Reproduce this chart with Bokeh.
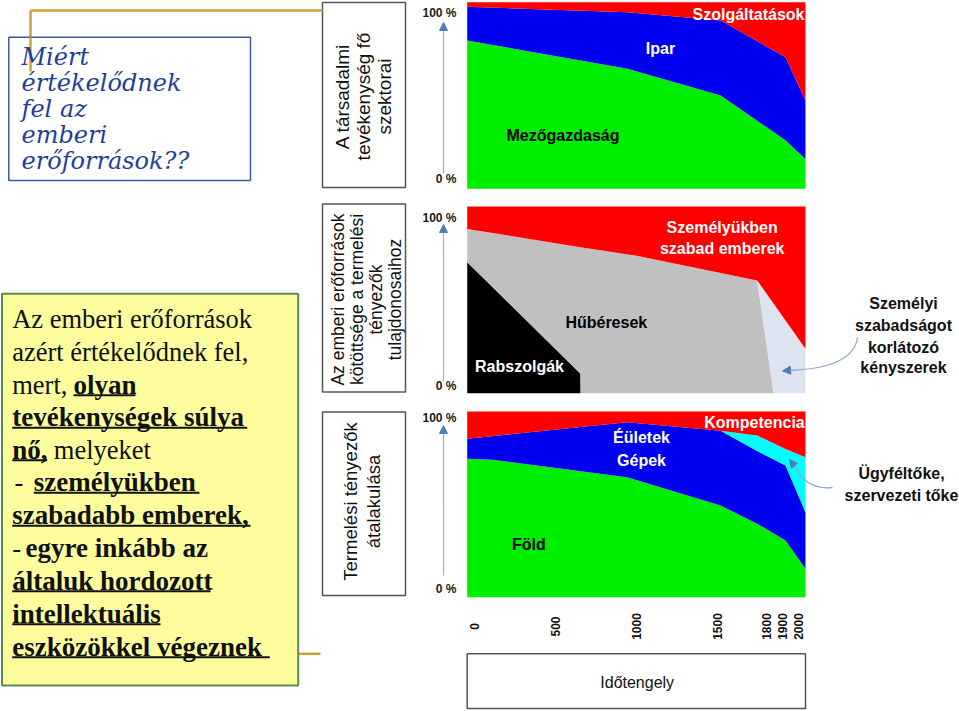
from math import pi
from bokeh.plotting import figure
from bokeh.models import Range1d, ColumnDataSource, Arrow, NormalHead
from bokeh.embed import file_html
from bokeh.resources import INLINE
from bokeh.core.properties import value

# ---------------- data ----------------
# Chart 1: main sectors of social activity (share, %)
sector_years = [-45, 945, 1520, 1920, 2043]
agriculture = [79.5, 64.3, 50.0, 26.0, 16.0]
industry = [18.0, 30.3, 40.2, 44.5, 31.3]
services = [2.5, 5.4, 9.8, 29.5, 52.7]

# Chart 2: bondage of human resources to owners of production factors (%)
bond_years = [-45, 654, 655, 1000, 1745, 1846, 2043]
slaves = [70.2, 10.4, 0, 0, 0, 0, 0]
serfs = [17.8, 67.8, 78.2, 73.6, 60.4, 0, 0]
constraints = [0, 0, 0, 0, 0, 48.0, 23.8]
free_people = [12.0, 21.8, 21.8, 26.4, 39.6, 52.0, 76.2]

# Chart 3: transformation of production factors (%)
factor_years = [-45, 109, 942, 1519, 1745, 1920, 2043]
land = [74.5, 74.0, 64.6, 49.4, 39.6, 30.5, 15.3]
buildings_machines = [10.8, 12.7, 29.6, 40.3, 39.1, 40.4, 30.5]
customer_capital = [0, 0, 0, 0, 8.4, 8.9, 29.5]
competence = [14.7, 13.3, 5.8, 10.3, 12.9, 20.2, 24.7]

tick_years = [0, 500, 1000, 1500, 1800, 1900, 2000]
tick_labels = ["0", "500", "1000", "1500", "1800", "1900", "2000"]

# ---------------- layout helpers ----------------
W, H = 959, 711


def Y(v):
    return H - v


p = figure(width=W, height=H, x_range=Range1d(0, W), y_range=Range1d(0, H),
           output_backend="svg", toolbar_location=None, min_border=0,
           x_axis_location=None, y_axis_location=None, outline_line_color=None,
           background_fill_color="white", border_fill_color="white")
p.grid.visible = False

X0, KX = 474.0, 0.162          # page x of year 0, px per year
p.extra_x_ranges = {"yr": Range1d((0 - X0) / KX, (W - X0) / KX)}


def pct_range(ybot, ytop):
    s = (ybot - ytop) / 100.0
    return Range1d((ybot - H) / s, ybot / s)


p.extra_y_ranges = {"top": pct_range(188.3, 1.7),
                    "mid": pct_range(392.7, 206.0),
                    "bot": pct_range(596.7, 411.0)}

# ---------------- charts ----------------
s1 = ColumnDataSource(dict(x=sector_years, a=agriculture, b=industry, c=services))
p.varea_stack(["a", "b", "c"], x="x", source=s1, color=["#00ee00", "#0000f0", "#ff0000"],
              x_range_name="yr", y_range_name="top")

s2 = ColumnDataSource(dict(x=bond_years, a=slaves, b=serfs, c=constraints, d=free_people))
p.varea_stack(["a", "b", "c", "d"], x="x", source=s2,
              color=["#000000", "#c0c0c0", "#dde3ef", "#ff0000"],
              x_range_name="yr", y_range_name="mid")

s3 = ColumnDataSource(dict(x=factor_years, a=land, b=buildings_machines, c=customer_capital, d=competence))
p.varea_stack(["a", "b", "c", "d"], x="x", source=s3,
              color=["#00ee00", "#0000f0", "#00ffff", "#ff0000"],
              x_range_name="yr", y_range_name="bot")

# time axis tick labels
p.text(x=tick_years, y=[Y(626)] * len(tick_years), text=tick_labels, x_range_name="yr",
       angle=pi / 2, text_align="center", text_baseline="middle",
       text_font=value("Liberation Sans"), text_font_style="bold",
       text_font_size="12px", text_color="#111111")


def txt(x, y, s, size, color="#111111", style="normal", font="Liberation Sans",
        align="center", angle=0.0):
    p.text(x=[x], y=[Y(y)], text=[s], text_font=value(font), text_font_size=f"{size}px",
           text_color=color, text_font_style=style, text_align=align,
           text_baseline="middle", angle=angle)


def box(l, r, t, b, fill="white", line="#555555", lw=1.5):
    p.quad(left=[l], right=[r], top=[Y(t)], bottom=[Y(b)], fill_color=fill,
           line_color=line, line_width=lw)


def seg(x0, y0, x1, y1, color, lw):
    p.segment(x0=[x0], y0=[Y(y0)], x1=[x1], y1=[Y(y1)], line_color=color, line_width=lw)


# chart labels
txt(748, 13.5, "Szolgáltatások", 16, "white", "bold")
txt(660, 48.3, "Ipar", 16, "white", "bold")
txt(562.5, 135, "Mezőgazdaság", 16, "#000000", "bold")
txt(721.7, 226.7, "Személyükben", 16, "white", "bold")
txt(721.7, 248.3, "szabad emberek", 16, "white", "bold")
txt(605.8, 321.7, "Hűbéresek", 16, "#000000", "bold")
txt(519, 365.7, "Rabszolgák", 16, "white", "bold")
txt(754, 421.7, "Kompetencia", 16, "white", "bold")
txt(641, 437.3, "Éületek", 16, "white", "bold")
txt(641, 460, "Gépek", 16, "white", "bold")
txt(528.3, 544, "Föld", 16, "#000000", "bold")

# percentage axes with arrows
for top_lab, bot_lab, y_head, y_tail in [(12.5, 178, 22, 173), (217.5, 385, 224, 381),
                                         (417, 588, 425, 575)]:
    p.add_layout(Arrow(end=NormalHead(size=8, fill_color="#4f7cba", line_color="#4f7cba"),
                       x_start=443, y_start=Y(y_tail), x_end=443, y_end=Y(y_head),
                       line_color="#9db3d3", line_width=1.2))
    txt(456, top_lab, "100 %", 12, "#1a1a1a", "bold", align="right")
    txt(456, bot_lab, "0 %", 12, "#1a1a1a", "bold", align="right")

# rotated label boxes
box(322, 405, 2, 187)
for x, s in [(342, "A társadalmi"), (363, "tevékenység fő"), (384, "szektorai")]:
    txt(x, 96, s, 19, "#111111", angle=pi / 2)
box(322, 405, 203.5, 391.5)
for x, s in [(337.5, "Az emberi erőforrások"), (356.5, "kötöttsége a termelési"),
             (375.5, "tényezők"), (394.5, "tulajdonosaihoz")]:
    txt(x, 299, s, 17.5, "#111111", angle=pi / 2)
box(322, 405, 411.5, 595)
for x, s in [(350, "Termelési tényezők"), (373, "átalakulása")]:
    txt(x, 501, s, 18.5, "#111111", angle=pi / 2)

# time axis box
box(466.7, 805, 653.3, 708)
txt(636.7, 681.7, "Időtengely", 16, "#111111")

# gold connectors
GOLD = "#cda234"
seg(30, 10, 322, 10, GOLD, 2.5)
seg(30, 10, 30, 71, GOLD, 2.5)
seg(297, 653.3, 320, 653.3, GOLD, 2.5)

# title box
box(8.3, 250, 36.7, 180, fill="white", line="#3c5a9a", lw=1.5)
p.segment(x0=[30], y0=[Y(36.7)], x1=[30], y1=[Y(71)], line_color=GOLD, line_width=2.5)
TBLUE = "#1f3f9a"
for yc, s in [(56, "Miért"), (82, "értékelődnek"), (108, "fel az"), (134, "emberi"),
              (160, "erőforrások??")]:
    txt(21, yc, s, 24, TBLUE, "italic", font="DejaVu Serif", align="left")

# yellow text box
box(1.5, 297.7, 293.3, 685, fill="#fdfd9e", line="#5e8a4f", lw=2)
centers = [318, 351, 384, 416.5, 449, 481.5, 514.5, 547, 580, 613, 646]
pieces = [
    (1, 11.7, "Az emberi erőforrások", False, None),
    (2, 11.7, "azért értékelődnek fel,", False, None),
    (3, 11.7, "mert,", False, None),
    (3, 73, "olyan", True, 135),
    (4, 11.7, "tevékenységek súlya", True, 246.7),
    (5, 11.7, "nő,", True, 46.7),
    (5, 53.3, "melyeket", False, None),
    (6, 14, "-", False, None),
    (6, 33.3, "személyükben", True, 199),
    (7, 11.7, "szabadabb emberek,", True, 250),
    (8, 11.7, "-", False, None),
    (8, 25, "egyre inkább az", True, None),
    (9, 11.7, "általuk hordozott", True, 210),
    (10, 11.7, "intellektuális", True, 160),
    (11, 11.7, "eszközökkel végeznek", True, 269.3),
]
for line, x, s, bold, ul_end in pieces:
    yc = centers[line - 1]
    txt(x, yc, s, 27 if bold else 26.5, "#111111", "bold" if bold else "normal",
        font="Liberation Serif", align="left")
    if ul_end is not None:
        seg(x, yc + 10.8, ul_end, yc + 10.8, "#111111", 2)

# right-hand annotations
for yy, s in [(303, "Személyi"), (325, "szabadságot"), (346.5, "korlátozó"), (367, "kényszerek")]:
    txt(903, yy, s, 16, "#111111", "bold")
txt(901, 473.3, "Ügyféltőke,", 16, "#111111", "bold")
txt(901, 495, "szervezeti tőke", 16, "#111111", "bold")

CURVE = "#8fa8cc"
p.quadratic(x0=[857], y0=[Y(337)], x1=[787], y1=[Y(370)], cx=[853], cy=[Y(368)],
            line_color=CURVE, line_width=1.3)
p.add_layout(Arrow(end=NormalHead(size=8, fill_color="#4f7cba", line_color="#4f7cba"),
                   x_start=792, y_start=Y(369.6), x_end=782, y_end=Y(370.4),
                   line_color=CURVE, line_width=1.3))
p.quadratic(x0=[832], y0=[Y(487)], x1=[794], y1=[Y(465)], cx=[806], cy=[Y(490)],
            line_color=CURVE, line_width=1.3)
p.add_layout(Arrow(end=NormalHead(size=8, fill_color="#4f7cba", line_color="#4f7cba"),
                   x_start=796, y_start=Y(468), x_end=789, y_end=Y(459),
                   line_color=CURVE, line_width=1.3))

open("out.html", "w").write(file_html(p, INLINE))
